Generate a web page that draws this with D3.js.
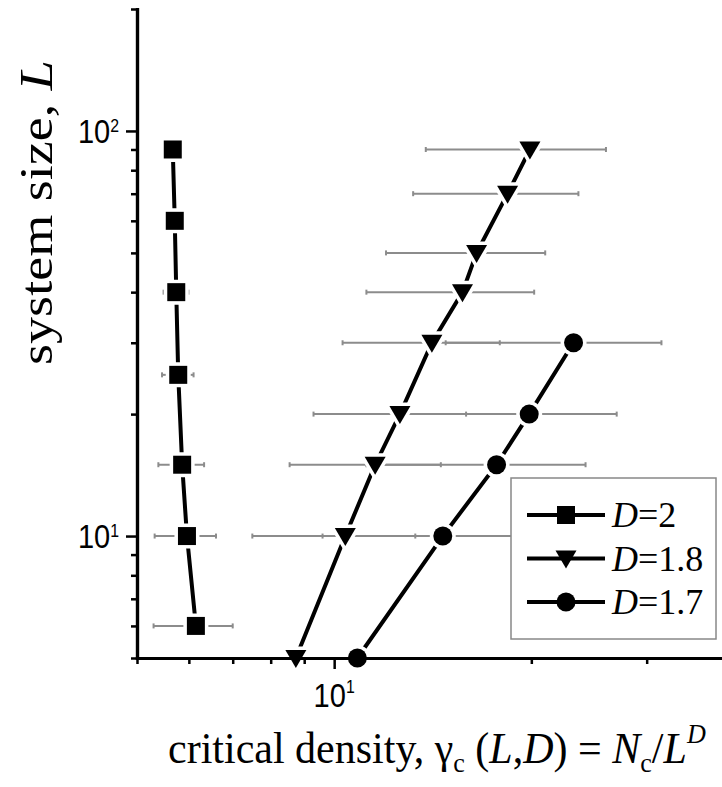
<!DOCTYPE html>
<html><head><meta charset="utf-8">
<script src="https://cdn.jsdelivr.net/npm/d3@7"></script>
<style>
body{margin:0;background:#fff} svg{display:block}
.serif{font-family:"Liberation Serif","Times New Roman",Times,serif}
.sans{font-family:"Liberation Sans",Arial,Helvetica,sans-serif}
</style>
</head><body>
<script>
// ---- data ----
const seriesNames = ["D=2", "D=1.8", "D=1.7"];
const sizesD2  = [90, 60, 40, 25, 15, 10, 6];
const densD2   = [5.67, 5.71, 5.74, 5.78, 5.86, 5.96, 6.15];
const errD2    = [0.11, 0.17, 0.25, 0.32, 0.47, 0.64, 0.85];
const sizesD18 = [90, 70, 50, 40, 30, 20, 15, 10, 5];
const densD18  = [19.9, 18.4, 16.5, 15.7, 14.1, 12.6, 11.55, 10.4, 8.74];
const errD18   = [6.1, 5.2, 4.5, 4.5, 3.8, 3.3, 3.0, 2.9, null];
const sizesD17 = [30, 20, 15, 10, 5];
const densD17  = [23.2, 19.85, 17.7, 14.65, 10.85];
const errD17   = [8.4, 7.15, 6.5, 5.05, null];
const xMajorTicks = [10];
const xMinorTicks = [5, 6, 7, 8, 9, 20, 30, 40];
const yMajorTicks = [10, 100];
const yMinorTicks = [5, 6, 7, 8, 9, 20, 30, 40, 50, 60, 70, 80, 90, 200];
const xTickLabels = [{v: 10, base: "10", exp: "1"}];
const yTickLabels = [{v: 100, base: "10", exp: "2"}, {v: 10, base: "10", exp: "1"}];

const W = 722, H = 787;
const svg = d3.select("body").append("svg").attr("width", W).attr("height", H);
const x = d3.scaleLog().domain([5, 40]).range([137, 728.5]);
const y = d3.scaleLog().domain([5, 200]).range([658, 9]);

function build(sizes, dens, errs) {
  return sizes.map((L, i) => ({L, v: dens[i], e: errs[i]}));
}
const series = [
  {name: seriesNames[0], shape: "square",   data: build(sizesD2, densD2, errD2)},
  {name: seriesNames[1], shape: "triangle", data: build(sizesD18, densD18, errD18)},
  {name: seriesNames[2], shape: "circle",   data: build(sizesD17, densD17, errD17)}
];

function shapePath(shape) {
  if (shape === "square") return "M-9,-9H9V9H-9Z";
  if (shape === "triangle") return "M-10.5,-8L10.5,-8L0,10Z";
  return d3.symbol(d3.symbolCircle, Math.PI * 9.5 * 9.5)();
}

// error bars
const eb = svg.append("g").attr("stroke", "#8c8c8c").attr("stroke-width", 2).attr("fill", "none");
series.forEach(s => {
  s.data.filter(d => d.e != null).forEach(d => {
    const yy = y(d.L), x0 = x(d.v - d.e), x1 = x(d.v + d.e);
    eb.append("line").attr("x1", x0).attr("x2", x1).attr("y1", yy).attr("y2", yy);
    [x0, x1].forEach(xx => eb.append("line").attr("x1", xx).attr("x2", xx).attr("y1", yy - 2.5).attr("y2", yy + 2.5));
  });
});

// lines
const line = d3.line().x(d => x(d.v)).y(d => y(d.L));
series.forEach(s => {
  svg.append("path").datum(s.data).attr("d", line)
    .attr("fill", "none").attr("stroke", "#000").attr("stroke-width", 4);
});

// markers with white halo
series.forEach(s => {
  svg.append("g").selectAll("path").data(s.data).join("path")
    .attr("d", shapePath(s.shape))
    .attr("transform", d => `translate(${x(d.v)},${y(d.L)})`)
    .attr("fill", "#000").attr("stroke", "#fff").attr("stroke-width", 7)
    .attr("paint-order", "stroke");
});

// axes
function drawAxis(axisGen, minor, major, transform) {
  const gMinor = svg.append("g").attr("transform", transform)
    .call(axisGen.tickValues(minor).tickSize(6).tickSizeOuter(0).tickFormat(""));
  const gMajor = svg.append("g").attr("transform", transform)
    .call(axisGen.tickValues(major).tickSize(11).tickSizeOuter(0).tickFormat(""));
  [gMinor, gMajor].forEach(g => {
    g.selectAll(".tick line").attr("stroke", "#000").attr("stroke-width", 2.5);
    g.select(".domain").attr("stroke", "#000").attr("stroke-width", 3.2).attr("stroke-linecap", "square");
  });
}
drawAxis(d3.axisLeft(y), yMinorTicks, yMajorTicks, "translate(137,0)");
drawAxis(d3.axisBottom(x), xMinorTicks, xMajorTicks, "translate(0,658)");

// tick labels
yTickLabels.forEach(t => {
  const yy = y(t.v);
  const txt = svg.append("text").attr("class", "sans").style("font-size", "33px")
    .attr("text-anchor", "end").attr("fill", "#000")
    .attr("transform", `translate(119,${yy + 12}) scale(0.88,1)`);
  txt.append("tspan").text(t.base);
  txt.append("tspan").style("font-size", "18px").attr("dy", -11).text(t.exp);
});
xTickLabels.forEach(t => {
  const txt = svg.append("text").attr("class", "sans").style("font-size", "33px")
    .attr("text-anchor", "middle").attr("fill", "#000")
    .attr("transform", `translate(${x(t.v)},707) scale(0.88,1)`);
  txt.append("tspan").text(t.base);
  txt.append("tspan").style("font-size", "18px").attr("dy", -14).text(t.exp);
});

// titles
function fit(sel, target, pre) {
  const w = sel.node().getComputedTextLength();
  sel.attr("transform", `${pre} scale(${target / w},1)`);
}
const xt = svg.append("text").attr("class", "serif").style("font-size", "45px").attr("fill", "#000");
xt.append("tspan").text("critical density, γ");
xt.append("tspan").style("font-size", "28px").attr("dy", 9).text("c");
xt.append("tspan").attr("dy", -9).text(" (");
xt.append("tspan").style("font-style", "italic").text("L");
xt.append("tspan").text(",");
xt.append("tspan").style("font-style", "italic").text("D");
xt.append("tspan").text(") = ");
xt.append("tspan").style("font-style", "italic").text("N");
xt.append("tspan").style("font-size", "28px").attr("dy", 9).text("c");
xt.append("tspan").attr("dy", -9).text("/");
xt.append("tspan").style("font-style", "italic").text("L");
xt.append("tspan").style("font-style", "italic").style("font-size", "28px").attr("dy", -20).text("D");
fit(xt, 538, "translate(168,763)");

const yt = svg.append("text").attr("class", "serif").style("font-size", "47px").attr("fill", "#000");
yt.append("tspan").text("system size, ");
yt.append("tspan").style("font-style", "italic").text("L");
fit(yt, 305, "translate(52,365) rotate(-90)");

// legend
const lg = svg.append("g");
lg.append("rect").attr("x", 511).attr("y", 478).attr("width", 205).attr("height", 161)
  .attr("fill", "#fff").attr("stroke", "#888").attr("stroke-width", 1.5);
series.forEach((s, i) => {
  const ry = 515 + i * 43.5;
  lg.append("line").attr("x1", 527).attr("x2", 605).attr("y1", ry).attr("y2", ry)
    .attr("stroke", "#000").attr("stroke-width", 4);
  lg.append("path").attr("d", shapePath(s.shape)).attr("transform", `translate(566,${ry})`).attr("fill", "#000");
  const parts = s.name.split("=");
  const t = lg.append("text").attr("x", 612).attr("y", ry + 12).attr("class", "serif")
    .style("font-size", "36px").attr("fill", "#000");
  t.append("tspan").style("font-style", "italic").text(parts[0]);
  t.append("tspan").text("=" + parts[1]);
});
</script>
</body></html>
